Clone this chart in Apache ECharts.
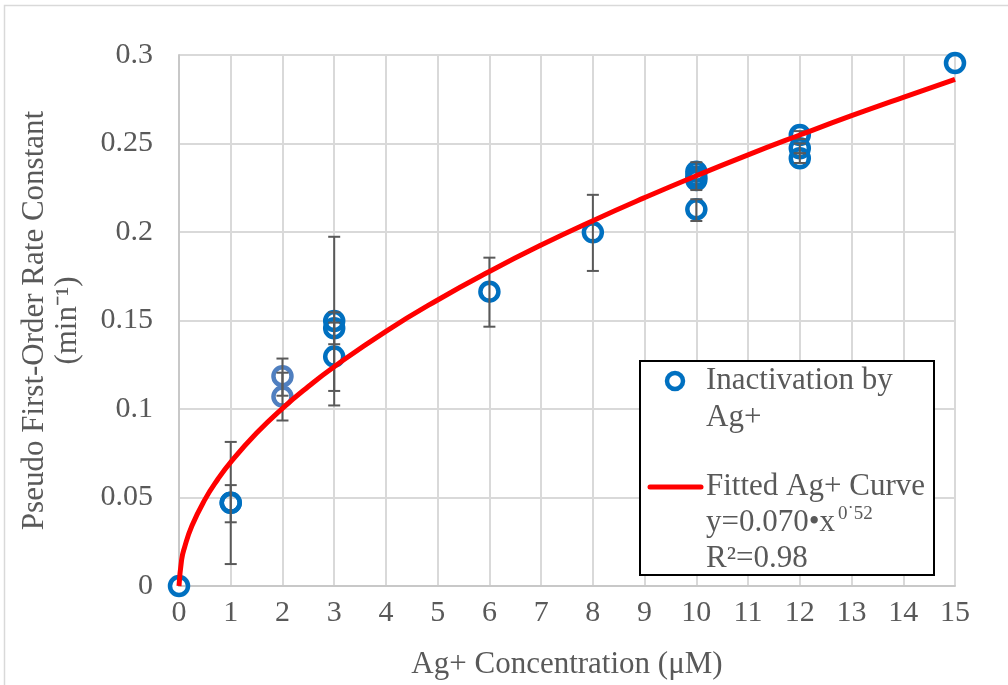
<!DOCTYPE html>
<html><head><meta charset="utf-8">
<script src="https://cdn.jsdelivr.net/npm/echarts@6/dist/echarts.min.js"></script>
<style>html,body{margin:0;padding:0;background:#fff}#c{width:1008px;height:685px}</style>
</head><body><div id="c"></div><script>
// Observed pseudo first-order rate constants (dark blue markers)
const obsX = [0, 1, 1, 3, 3, 3, 6, 8, 10, 10, 10, 10, 12, 12, 12, 15];
const obsY = [0, 0.047, 0.047, 0.1497, 0.1456, 0.1296, 0.1663, 0.1998, 0.234, 0.2313, 0.2294, 0.2128, 0.2548, 0.2473, 0.2417, 0.2955];
// Observed at 2 uM (lighter blue markers)
const obs2X = [2, 2];
const obs2Y = [0.1185, 0.107];
// Error bars: x, low, high
const errX = [1, 1, 2, 2, 3, 3, 3, 6, 8, 10, 10, 12, 12, 12];
const errLow = [0.0124, 0.036, 0.1075, 0.0935, 0.102, 0.1366, 0.1102, 0.1465, 0.178, 0.2237, 0.2062, 0.2525, 0.2445, 0.239];
const errHigh = [0.0814, 0.057, 0.1285, 0.1205, 0.1973, 0.1546, 0.1488, 0.1855, 0.221, 0.2394, 0.2185, 0.2570, 0.250, 0.2445];
// Fitted curve
const fitX = [0, 0.05, 0.1, 0.25, 0.5, 0.75, 1, 1.5, 2, 2.5, 3, 4, 5, 6, 7, 8, 9, 10, 11, 12, 13, 14, 15];
const fitY = [0, 0.0147, 0.0211, 0.034, 0.0488, 0.0603, 0.070, 0.0864, 0.1004, 0.1127, 0.1239, 0.1439, 0.1616, 0.1777, 0.1926, 0.2064, 0.2194, 0.2318, 0.2436, 0.2548, 0.2657, 0.2761, 0.2862];
// Axis ranges
const xMin = 0, xMax = 15, xStep = 1;
const yMin = 0, yMax = 0.3, yStep = 0.05;

const FONT = 'Liberation Serif';
const TXT = '#595959';
const chart = echarts.init(document.getElementById('c'), null, {renderer: 'canvas'});

const LZ = 1000;
const option = {
  backgroundColor: '#fff',
  animation: false,
  grid: {left: 179, right: 53, top: 55, bottom: 99, containLabel: false},
  xAxis: {
    type: 'value', min: xMin, max: xMax, interval: xStep,
    name: 'Ag+ Concentration (μM)', nameLocation: 'middle', nameGap: 63,
    nameTextStyle: {fontFamily: FONT, fontSize: 31, color: TXT},
    axisLine: {show: true, lineStyle: {color: '#c8c8c8', width: 2}},
    axisTick: {show: false},
    axisLabel: {fontFamily: FONT, fontSize: 30, color: TXT, margin: 12},
    splitLine: {show: true, lineStyle: {color: '#d9d9d9', width: 2}}
  },
  yAxis: {
    type: 'value', min: yMin, max: yMax, interval: yStep,
    name: 'Pseudo First-Order Rate Constant\n(min⁻¹)', nameLocation: 'middle', nameGap: 95, nameRotate: 90,
    nameTextStyle: {fontFamily: FONT, fontSize: 31, color: TXT, lineHeight: 33},
    axisLine: {show: true, lineStyle: {color: '#c8c8c8', width: 2}},
    axisTick: {show: false},
    axisLabel: {fontFamily: FONT, fontSize: 30, color: TXT, margin: 26},
    splitLine: {show: true, lineStyle: {color: '#d9d9d9', width: 2}}
  },
  series: [
    {
      type: 'scatter', name: 'Inactivation by Ag+',
      data: obsX.map((x, i) => [x, obsY[i]]),
      symbol: 'circle', symbolSize: 18,
      itemStyle: {color: 'rgba(0,0,0,0)', borderColor: '#0070C0', borderWidth: 4.5, opacity: 1},
      z: 3
    },
    {
      type: 'scatter', name: 'Inactivation by Ag+ (2 uM)',
      data: obs2X.map((x, i) => [x, obs2Y[i]]),
      symbol: 'circle', symbolSize: 18,
      itemStyle: {color: 'rgba(0,0,0,0)', borderColor: '#4F7FC0', borderWidth: 4.5, opacity: 1},
      z: 3
    },
    {
      type: 'custom', name: 'err',
      data: errX.map((x, i) => [x, errLow[i], errHigh[i]]),
      encode: {x: 0, y: [1, 2]},
      renderItem: function (params, api) {
        const x = api.value(0), lo = api.value(1), hi = api.value(2);
        const a = api.coord([x, hi]), b = api.coord([x, lo]);
        const w = 6;
        const st = {stroke: '#595959', lineWidth: 2};
        return {type: 'group', children: [
          {type: 'line', shape: {x1: a[0], y1: a[1], x2: b[0], y2: b[1]}, style: st},
          {type: 'line', shape: {x1: a[0] - w, y1: a[1], x2: a[0] + w, y2: a[1]}, style: st},
          {type: 'line', shape: {x1: b[0] - w, y1: b[1], x2: b[0] + w, y2: b[1]}, style: st}
        ]};
      },
      z: 4
    },
    {
      type: 'line', name: 'Fitted Ag+ Curve',
      data: fitX.map((x, i) => [x, fitY[i]]),
      smooth: true, showSymbol: false, symbol: 'none',
      lineStyle: {color: '#FF0000', width: 5},
      z: 5
    }
  ],
  graphic: [
    {type: 'rect', z: 0, silent: true, shape: {x: 4.5, y: 5.5, width: 1100, height: 800},
      style: {fill: 'none', stroke: '#d9d9d9', lineWidth: 1.5}},
    {type: 'rect', z: LZ, shape: {x: 640, y: 361, width: 294, height: 214},
      style: {fill: '#fff', stroke: '#000', lineWidth: 2}},
    {type: 'circle', z: LZ + 1, shape: {cx: 675, cy: 381, r: 8},
      style: {fill: 'none', stroke: '#0070C0', lineWidth: 4.5}},
    {type: 'text', z: LZ + 1, style: {text: 'Inactivation by', x: 706, y: 381, fontFamily: FONT, fontSize: 31, fill: TXT, verticalAlign: 'middle'}},
    {type: 'text', z: LZ + 1, style: {text: 'Ag+', x: 706, y: 418, fontFamily: FONT, fontSize: 31, fill: TXT, verticalAlign: 'middle'}},
    {type: 'line', z: LZ + 1, shape: {x1: 650, y1: 487, x2: 701, y2: 487},
      style: {stroke: '#FF0000', lineWidth: 5, lineCap: 'round'}},
    {type: 'text', z: LZ + 1, style: {text: 'Fitted Ag+ Curve', x: 706, y: 487, fontFamily: FONT, fontSize: 31, fill: TXT, verticalAlign: 'middle'}},
    {type: 'text', z: LZ + 1, style: {text: 'y=0.070•x', x: 706, y: 523, fontFamily: FONT, fontSize: 31, fill: TXT, verticalAlign: 'middle'}},
    {type: 'text', z: LZ + 1, style: {text: '0˙52', x: 838, y: 514, fontFamily: FONT, fontSize: 19, fill: TXT, verticalAlign: 'middle'}},
    {type: 'text', z: LZ + 1, style: {text: 'R²=0.98', x: 706, y: 559, fontFamily: FONT, fontSize: 31, fill: TXT, verticalAlign: 'middle'}}
  ]
};
chart.setOption(option);
</script></body></html>
